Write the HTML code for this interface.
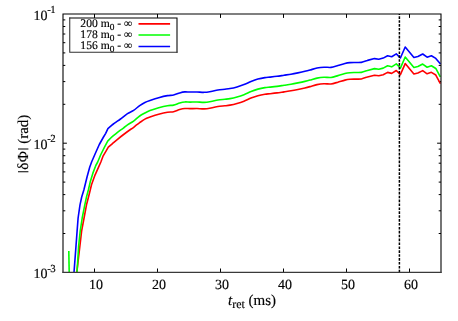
<!DOCTYPE html><html><head><meta charset="utf-8"><style>html,body{margin:0;padding:0;background:#fff}svg{display:block;will-change:transform}text{text-rendering:geometricPrecision;font-family:"Liberation Serif",serif;fill:#000;stroke:#000;stroke-width:0.15px}</style></head><body>
<svg width="458" height="321" viewBox="0 0 458 321">
<rect width="458" height="321" fill="#fff"/>
<path d="M94.5 272.4V268.5M94.5 14.0V17.9M157.5 272.4V268.5M157.5 14.0V17.9M220.5 272.4V268.5M220.5 14.0V17.9M283.5 272.4V268.5M283.5 14.0V17.9M346.5 272.4V268.5M346.5 14.0V17.9M409.5 272.4V268.5M409.5 14.0V17.9M63.0 233.5H65.3M441.0 233.5H438.7M63.0 210.8H65.3M441.0 210.8H438.7M63.0 194.6H65.3M441.0 194.6H438.7M63.0 182.1H65.3M441.0 182.1H438.7M63.0 171.9H65.3M441.0 171.9H438.7M63.0 163.2H65.3M441.0 163.2H438.7M63.0 155.7H65.3M441.0 155.7H438.7M63.0 149.1H65.3M441.0 149.1H438.7M63.0 143.2H66.9M441.0 143.2H437.1M63.0 104.3H65.3M441.0 104.3H438.7M63.0 81.6H65.3M441.0 81.6H438.7M63.0 65.4H65.3M441.0 65.4H438.7M63.0 52.9H65.3M441.0 52.9H438.7M63.0 42.7H65.3M441.0 42.7H438.7M63.0 34.0H65.3M441.0 34.0H438.7M63.0 26.5H65.3M441.0 26.5H438.7M63.0 19.9H65.3M441.0 19.9H438.7" stroke="#000" stroke-width="1" fill="none"/>
<path d="M76.8 272.4L79.90 246.00L81.60 231.10L84.05 218.00L86.50 204.80L88.50 197.00L90.25 190.00L91.50 184.70L95.00 175.10L98.90 166.40L100.85 162.00L103.20 155.80L106.30 150.60L108.30 147.20L112.50 143.60C113.17 143.03 116.02 140.51 117.50 139.30C118.98 138.09 121.97 135.74 123.60 134.50C125.23 133.26 128.45 130.89 129.70 130.00C130.95 129.11 132.13 128.44 133.00 127.80C133.87 127.16 135.31 125.89 136.20 125.20C137.09 124.51 138.54 123.41 139.70 122.60C140.86 121.79 143.53 119.83 144.90 119.10C146.27 118.37 148.16 117.75 150.00 117.11C151.84 116.48 156.37 114.96 158.70 114.31C161.03 113.67 165.51 112.60 167.50 112.25C169.49 111.90 171.97 112.05 173.60 111.68C175.23 111.32 178.19 109.94 179.70 109.51C181.21 109.09 183.53 108.60 184.90 108.48C186.27 108.37 188.39 108.64 190.00 108.65C191.61 108.66 195.13 108.51 197.00 108.55C198.87 108.58 202.13 108.99 204.00 108.91C205.87 108.84 209.15 108.33 211.00 108.01C212.85 107.70 216.05 106.87 217.90 106.58C219.75 106.29 223.29 106.00 224.90 105.81C226.51 105.63 228.39 105.47 230.00 105.16C231.61 104.86 235.13 104.05 237.00 103.51C238.87 102.98 242.13 101.90 244.00 101.18C245.87 100.46 249.15 98.85 251.00 98.11C252.85 97.38 256.05 96.21 257.90 95.68C259.75 95.16 263.29 94.45 264.90 94.18C266.51 93.92 268.39 93.87 270.00 93.70C271.61 93.53 275.13 93.16 277.00 92.91C278.87 92.67 282.13 92.13 284.00 91.85C285.87 91.56 289.15 91.10 291.00 90.78C292.85 90.46 296.05 89.83 297.90 89.45C299.75 89.07 303.29 88.29 304.90 87.91C306.51 87.54 308.39 87.05 310.00 86.61C311.61 86.18 315.13 85.03 317.00 84.65C318.87 84.27 322.13 83.87 324.00 83.78C325.87 83.69 329.15 84.19 331.00 83.98C332.85 83.77 336.05 82.70 337.90 82.18C339.75 81.67 343.29 80.50 344.90 80.11C346.51 79.73 348.63 79.40 350.00 79.26C351.37 79.13 353.68 79.12 355.20 79.08C356.72 79.04 359.76 79.23 361.40 78.95C363.04 78.67 366.69 77.24 367.50 76.98L374.50 75.18L378.80 75.78L383.20 74.68L387.60 72.36L391.70 73.38L396.30 70.48L400.40 74.61L405.20 63.58L413.90 74.05L417.90 73.05L422.70 70.61L427.10 73.78L431.40 72.35L435.80 75.01L440.40 83.70" fill="none" stroke="#ff0000" stroke-width="1.6" stroke-linejoin="round" stroke-linecap="butt"/>
<path d="M77.0 272.4L78.65 246.00L80.20 231.10L82.20 218.00L84.80 204.80L86.50 197.00L88.35 190.00L90.20 182.10L92.80 173.40L95.80 165.50L97.70 162.00L100.60 155.00L104.50 147.10L107.70 141.10L112.00 136.80C112.73 136.20 115.98 133.46 117.50 132.30C119.02 131.14 122.07 129.10 123.40 128.10C124.73 127.10 126.14 125.73 127.50 124.80C128.86 123.87 131.97 122.27 133.60 121.10C135.23 119.93 138.19 117.08 139.70 116.00C141.21 114.92 143.53 113.73 144.90 113.00C146.27 112.27 148.16 111.26 150.00 110.56C151.84 109.86 156.37 108.41 158.70 107.76C161.03 107.11 165.51 106.05 167.50 105.70C169.49 105.34 171.97 105.49 173.60 105.13C175.23 104.76 178.19 103.39 179.70 102.96C181.21 102.54 183.53 102.04 184.90 101.93C186.27 101.81 188.39 102.09 190.00 102.10C191.61 102.10 195.13 101.96 197.00 102.00C198.87 102.03 202.13 102.43 204.00 102.36C205.87 102.29 209.15 101.77 211.00 101.46C212.85 101.15 216.05 100.32 217.90 100.03C219.75 99.74 223.29 99.45 224.90 99.26C226.51 99.07 228.39 98.92 230.00 98.61C231.61 98.31 235.13 97.49 237.00 96.96C238.87 96.43 242.13 95.35 244.00 94.63C245.87 93.91 249.15 92.30 251.00 91.56C252.85 90.83 256.05 89.65 257.90 89.13C259.75 88.60 263.29 87.89 264.90 87.63C266.51 87.36 268.39 87.31 270.00 87.15C271.61 86.98 275.13 86.61 277.00 86.36C278.87 86.12 282.13 85.58 284.00 85.30C285.87 85.01 289.15 84.55 291.00 84.23C292.85 83.91 296.05 83.28 297.90 82.90C299.75 82.51 303.29 81.74 304.90 81.36C306.51 80.98 308.39 80.50 310.00 80.06C311.61 79.63 315.13 78.47 317.00 78.10C318.87 77.72 322.13 77.32 324.00 77.23C325.87 77.14 329.15 77.64 331.00 77.43C332.85 77.22 336.05 76.14 337.90 75.63C339.75 75.11 343.29 73.95 344.90 73.56C346.51 73.17 348.63 72.85 350.00 72.71C351.37 72.57 353.68 72.57 355.20 72.53C356.72 72.49 359.76 72.68 361.40 72.40C363.04 72.12 366.69 70.69 367.50 70.43L374.50 68.63L378.80 69.23L383.20 68.13L387.60 65.81L391.70 66.83L396.30 63.93L400.40 68.06L405.20 57.03L413.90 67.50L417.90 66.50L422.70 64.06L427.10 67.23L431.40 65.80L435.80 68.46L440.30 76.80" fill="none" stroke="#00ff00" stroke-width="1.6" stroke-linejoin="round" stroke-linecap="butt"/>
<path d="M68.8 251.1L69.2 272.4" stroke="#00ff00" stroke-width="1.6" fill="none"/>
<path d="M74.0 272.4L76.00 246.00L77.10 231.10L78.10 218.00L80.00 204.80L81.70 197.00L83.85 190.00L87.10 176.80L89.70 167.20L91.60 162.00L95.40 153.20L99.30 144.50L103.50 137.00L105.70 133.30L107.90 128.60L112.20 124.90C112.67 124.55 114.59 123.09 115.70 122.30C116.81 121.51 118.93 120.16 120.50 119.00C122.07 117.84 125.75 114.75 127.50 113.60C129.25 112.45 131.97 111.47 133.60 110.40C135.23 109.33 138.19 106.65 139.70 105.60C141.21 104.55 143.53 103.18 144.90 102.50C146.27 101.82 148.16 101.16 150.00 100.52C151.84 99.89 156.37 98.37 158.70 97.72C161.03 97.07 165.51 96.01 167.50 95.66C169.49 95.31 171.97 95.45 173.60 95.09C175.23 94.73 178.19 93.35 179.70 92.92C181.21 92.50 183.53 92.01 184.90 91.89C186.27 91.77 188.39 92.05 190.00 92.06C191.61 92.07 195.13 91.92 197.00 91.96C198.87 91.99 202.13 92.39 204.00 92.32C205.87 92.25 209.15 91.73 211.00 91.42C212.85 91.11 216.05 90.28 217.90 89.99C219.75 89.70 223.29 89.41 224.90 89.22C226.51 89.03 228.39 88.88 230.00 88.57C231.61 88.27 235.13 87.45 237.00 86.92C238.87 86.39 242.13 85.31 244.00 84.59C245.87 83.87 249.15 82.26 251.00 81.52C252.85 80.79 256.05 79.61 257.90 79.09C259.75 78.57 263.29 77.85 264.90 77.59C266.51 77.33 268.39 77.28 270.00 77.11C271.61 76.94 275.13 76.57 277.00 76.32C278.87 76.08 282.13 75.54 284.00 75.26C285.87 74.97 289.15 74.51 291.00 74.19C292.85 73.87 296.05 73.24 297.90 72.86C299.75 72.47 303.29 71.70 304.90 71.32C306.51 70.95 308.39 70.46 310.00 70.02C311.61 69.59 315.13 68.43 317.00 68.06C318.87 67.68 322.13 67.28 324.00 67.19C325.87 67.10 329.15 67.60 331.00 67.39C332.85 67.18 336.05 66.11 337.90 65.59C339.75 65.07 343.29 63.91 344.90 63.52C346.51 63.13 348.63 62.81 350.00 62.67C351.37 62.54 353.68 62.53 355.20 62.49C356.72 62.45 359.76 62.64 361.40 62.36C363.04 62.08 366.69 60.65 367.50 60.39L374.50 58.59L378.80 59.19L383.20 58.09L387.60 55.77L391.70 56.79L396.30 53.89L400.40 58.02L405.20 46.99L413.90 57.46L417.90 56.46L422.70 54.02L427.10 57.19L431.40 55.76L435.80 58.42L440.50 64.10" fill="none" stroke="#0000ff" stroke-width="1.6" stroke-linejoin="round" stroke-linecap="butt"/>
<path d="M399.4 14.0V272.4" stroke="#000" stroke-width="1.5" stroke-dasharray="2.6 1.3" stroke-dashoffset="1.6" fill="none"/>
<path d="M63.0 13.5V272.9M441.0 13.5V272.9M62.5 14.0H441.5" stroke="#000" stroke-width="1.08" fill="none"/>
<path d="M62.5 272.4H441.5" stroke="#3a3a3a" stroke-width="1.1" fill="none"/>
<path d="M177 17.5V52.75M69.25 18H177.5" stroke="#000" stroke-width="1.05" fill="none"/>
<path d="M69.75 17.5V52.75M69.25 52.25H177.5" stroke="#303030" stroke-width="1.05" fill="none"/>
<text x="132.3" y="26.7" font-size="11.6" text-anchor="end">200 m<tspan font-size="9.4" dy="2.9">0</tspan><tspan dy="-2.9"> - ∞</tspan></text>
<path d="M138.5 23.9H170.1" stroke="#ff0000" stroke-width="1.6" fill="none"/>
<text x="132.3" y="37.8" font-size="11.6" text-anchor="end">178 m<tspan font-size="9.4" dy="2.9">0</tspan><tspan dy="-2.9"> - ∞</tspan></text>
<path d="M138.5 35.0H170.1" stroke="#00ff00" stroke-width="1.6" fill="none"/>
<text x="132.3" y="48.9" font-size="11.6" text-anchor="end">156 m<tspan font-size="9.4" dy="2.9">0</tspan><tspan dy="-2.9"> - ∞</tspan></text>
<path d="M138.5 46.5H170.1" stroke="#0000ff" stroke-width="1.6" fill="none"/>
<text x="47.4" y="20.0" font-size="14" text-anchor="end">10</text>
<text x="47.3" y="13.2" font-size="10.8" letter-spacing="-0.6" text-anchor="start">-1</text>
<text x="47.4" y="149.2" font-size="14" text-anchor="end">10</text>
<text x="47.3" y="142.4" font-size="10.8" letter-spacing="-0.6" text-anchor="start">-2</text>
<text x="47.4" y="278.4" font-size="14" text-anchor="end">10</text>
<text x="47.3" y="271.6" font-size="10.8" letter-spacing="-0.6" text-anchor="start">-3</text>
<text x="95.9" y="289.2" font-size="14" text-anchor="middle">10</text>
<text x="158.9" y="289.2" font-size="14" text-anchor="middle">20</text>
<text x="221.9" y="289.2" font-size="14" text-anchor="middle">30</text>
<text x="284.9" y="289.2" font-size="14" text-anchor="middle">40</text>
<text x="347.9" y="289.2" font-size="14" text-anchor="middle">50</text>
<text x="410.9" y="289.2" font-size="14" text-anchor="middle">60</text>
<text x="228" y="304.8" font-size="15"><tspan font-style="italic">t</tspan><tspan font-size="12" dy="3.2">ret</tspan><tspan dy="-3.2"> (ms)</tspan></text>
<text transform="translate(27.8,166.2) rotate(-90)" font-size="15.3" text-anchor="middle">δ</text>
<text transform="translate(27.8,156.7) rotate(-90)" font-size="15.3" text-anchor="middle">Φ</text>
<text transform="translate(27.8,129.2) rotate(-90)" font-size="15.0" text-anchor="middle">(rad)</text>
<path d="M18 171.7H28.4M18 149H28.4" stroke="#000" stroke-width="1.1" fill="none"/>
</svg></body></html>
